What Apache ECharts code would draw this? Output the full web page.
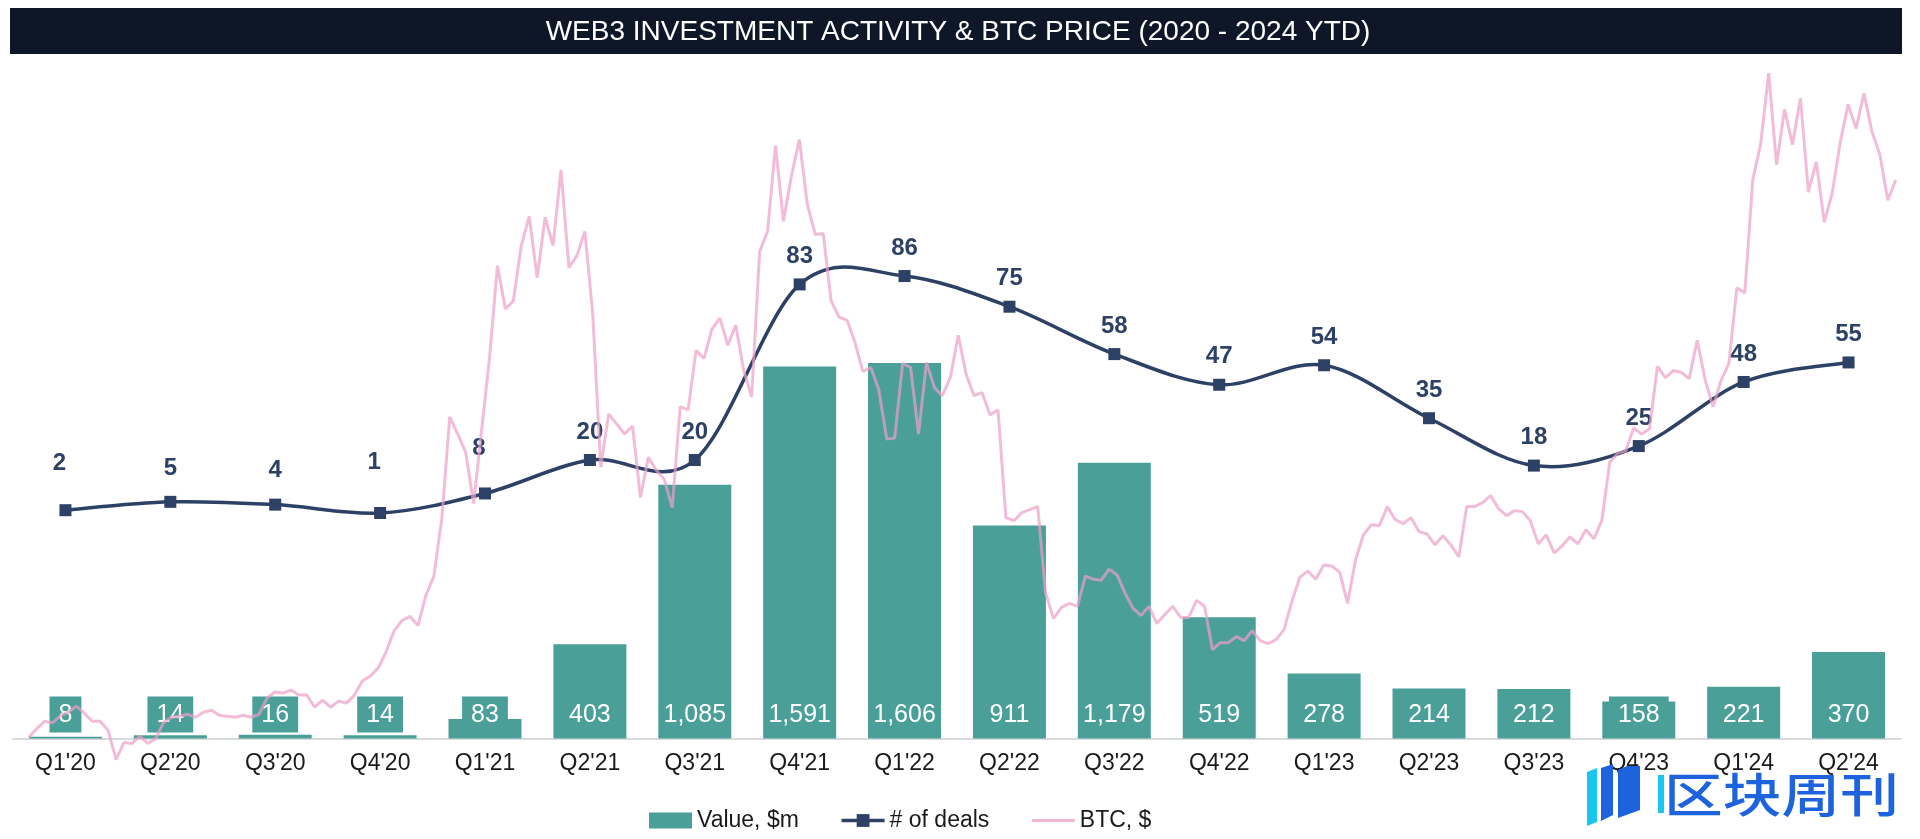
<!DOCTYPE html>
<html><head><meta charset="utf-8">
<script src="https://cdn.jsdelivr.net/npm/echarts@6/dist/echarts.min.js"></script>
<style>html,body{margin:0;padding:0;background:#fff}#c{width:1920px;height:839px}</style>
</head><body><div id="c"></div>
<script>
// ---------------- data ----------------
const quarters = ["Q1'20","Q2'20","Q3'20","Q4'20","Q1'21","Q2'21","Q3'21","Q4'21","Q1'22","Q2'22","Q3'22","Q4'22","Q1'23","Q2'23","Q3'23","Q4'23","Q1'24","Q2'24"];
const valueM = [8,14,16,14,83,403,1085,1591,1606,911,1179,519,278,214,212,158,221,370];
const deals = [2,5,4,1,8,20,20,83,86,75,58,47,54,35,18,25,48,55];
// BTC price, $, one reading per week starting 1 Jan 2020
const btcFirstDay = [2020, 0, 1];
const btcStepDays = 7;
const btcUSD = [
  7200,8050,8800,8650,9350,9700,10300,9600,8800,8800,7900,5000,6700,6600,7300,6600,7100,8700,9200,9300,9500,9200,9700,9900,9400,9300,9200,9400,9200,9500,11100,11700,11600,11900,11400,11400,10200,10900,10200,10800,10600,11400,12800,13300,14100,15700,17800,18800,19200,18300,21300,23200,28900,
  39000,37300,35500,30400,37600,44800,54000,49700,50500,56000,58900,52800,58800,56000,63500,53800,55000,57400,49200,34000,39300,38300,37300,38100,31000,35000,33700,32800,30000,40000,39700,45600,44800,47700,48800,46100,48100,43600,41000,55400,57400,65900,58400,62900,66500,60100,57100,57200,50500,48900,48600,46400,
  43500,43900,41700,36800,36900,44300,43900,37300,44400,41900,41100,42900,47100,43200,41100,41400,39200,39700,29000,28700,29500,29800,30100,21500,19000,20100,20500,20200,23200,22900,22800,23900,23300,21500,20000,19300,20200,18500,19400,20200,19100,19100,20800,20200,15900,16600,16600,17200,16800,17800,16800,16500,
  16900,17900,20700,23100,23700,22900,24300,24200,23600,20500,24800,27300,28300,28200,30100,28800,28400,29000,27600,27400,26300,27200,26300,25100,30100,30100,30500,31200,29900,29200,29700,29600,28700,26400,27300,25500,26200,27100,26400,27800,26900,28700,34500,35400,35600,37900,37300,37800,44000,42900,43600,43400,
  42800,46600,42700,40000,42600,44300,51800,51300,62500,66100,73100,64000,69500,66000,70600,61300,64300,58300,61200,66200,70000,67600,71100,67300,65000,60500,62500
];

// ---------------- styles ----------------
const TEAL = '#4b9f99', NAVY = '#2c4165', PINK = '#ec9fc7';
const FONT = '"Liberation Sans", Arial, sans-serif';
// manual nudges of the first deal labels (px), as in the original
const dealLabelNudge = [[-6,-19],[0,-5],[0,-6],[-6,-23],[-6,-17]];

const DAY = 86400000;
const t0 = new Date(btcFirstDay[0], btcFirstDay[1], btcFirstDay[2]).getTime();
const btcData = btcUSD.map((v, i) => [t0 + i * btcStepDays * DAY, v]);
const dealData = deals.map((v, i) => ({ value: v, label: { offset: dealLabelNudge[i] || [0, 0] } }));
const fmt = v => v.toLocaleString('en-US');
// label box: wide padding for short numbers, tight for long ones so it stays inside the bar
const barData = valueM.map(v => ({ value: v, label: { padding: fmt(v).length > 3 ? [6, 2, 5, 2] : [6, 9, 5, 9] } }));

// Catmull-Rom style smoothing (like the spreadsheet's smoothed line), drawn through the axis scales
function dealsCurve(params, api) {
  if (params.dataIndex !== 0) return null;
  const pts = deals.map((v, i) => api.coord([i, v]));
  const n = pts.length, kids = [];
  for (let i = 0; i < n - 1; i++) {
    const p0 = pts[Math.max(i - 1, 0)], p1 = pts[i], p2 = pts[i + 1], p3 = pts[Math.min(i + 2, n - 1)];
    kids.push({
      type: 'bezierCurve',
      shape: {
        x1: p1[0], y1: p1[1], x2: p2[0], y2: p2[1],
        cpx1: p1[0] + (p2[0] - p0[0]) / 6, cpy1: p1[1] + (p2[1] - p0[1]) / 6,
        cpx2: p2[0] - (p3[0] - p1[0]) / 6, cpy2: p2[1] - (p3[1] - p1[1]) / 6
      },
      style: { stroke: NAVY, lineWidth: 3.5, fill: null }
    });
  }
  return { type: 'group', children: kids };
}

const chart = echarts.init(document.getElementById('c'), null, { renderer: 'canvas' });
chart.setOption({
  animation: false,
  backgroundColor: '#fff',
  grid: { left: 13, right: 19, top: 60, bottom: 100.5, containLabel: false },
  legend: {
    left: 644, top: 804,
    itemWidth: 43, itemHeight: 16, itemGap: 41,
    textStyle: { fontFamily: FONT, fontSize: 23, color: '#1a1a1a' },
    data: [
      { name: 'Value, $m', icon: 'rect' },
      { name: '# of deals', lineStyle: { color: NAVY, width: 3.5, opacity: 1 } },
      { name: 'BTC, $', itemStyle: { opacity: 0 }, lineStyle: { color: '#f2b6d4', width: 3, opacity: 1 } }
    ]
  },
  xAxis: [
    {
      type: 'category', data: quarters,
      axisLine: { lineStyle: { color: '#d8dbde', width: 2 } },
      axisTick: { show: false },
      axisLabel: { fontFamily: FONT, fontSize: 23, color: '#1a1a1a', margin: 14 }
    },
    { type: 'time', show: false, min: t0 - 13.8 * DAY, max: t0 + 1649.6 * DAY }
  ],
  yAxis: [
    { type: 'value', show: false, min: 0, max: 2902 },
    { type: 'value', show: false, min: -79.9, max: 163.5 },
    { type: 'value', show: false, min: 7093, max: 74405 }
  ],
  graphic: [
    { type: 'rect', shape: { x: 10, y: 8, width: 1892, height: 46 }, style: { fill: '#0d1727' }, z: 10 },
    { type: 'text', x: 958, y: 32, z: 11, style: { text: 'WEB3 INVESTMENT ACTIVITY & BTC PRICE (2020 - 2024 YTD)', fill: '#ffffff', font: '28px ' + FONT, textAlign: 'center', textVerticalAlign: 'middle' } },
    // watermark logo
    { type: 'polygon', z: 20, shape: { points: [[1587,772],[1597,768],[1597,822],[1587,826]] }, style: { fill: '#19c6ef' } },
    { type: 'polygon', z: 20, shape: { points: [[1601,768],[1613,764],[1613,815],[1601,821]] }, style: { fill: '#1e63de' } },
    { type: 'polygon', z: 20, shape: { points: [[1618,770],[1627,766],[1640,766],[1640,810],[1618,818]] }, style: { fill: '#1e63de' } },
    { type: 'rect', z: 20, shape: { x: 1658, y: 775, width: 6, height: 38 }, style: { fill: '#19c6ef' } },
    { type: 'text', z: 20, x: 1664, y: 794, scaleX: 1.25, style: { text: '区块周刊', fill: '#1e63de', font: '500 47px "Noto Sans CJK SC"', textAlign: 'left', textVerticalAlign: 'middle' } }
  ],
  series: [
    {
      name: 'Value, $m', type: 'bar', data: barData, barWidth: 73, z: 2,
      itemStyle: { color: TEAL },
      label: {
        show: true, position: 'insideBottom', distance: 6,
        color: '#fff', fontFamily: FONT, fontSize: 25, lineHeight: 25,
        backgroundColor: TEAL, borderRadius: 0, textBorderWidth: 0,
        formatter: p => fmt(p.value)
      }
    },
    {
      name: '# of deals curve', type: 'custom', yAxisIndex: 1, data: deals, z: 3,
      renderItem: dealsCurve, silent: true
    },
    {
      name: '# of deals', type: 'line', yAxisIndex: 1, data: dealData, z: 3,
      symbol: 'rect', symbolSize: 12,
      lineStyle: { color: NAVY, width: 3.5, opacity: 0 }, itemStyle: { color: NAVY },
      label: { show: true, position: 'top', distance: 11, color: NAVY, fontFamily: FONT, fontSize: 24, fontWeight: 'bold', lineHeight: 22 }
    },
    {
      name: 'BTC, $', type: 'line', xAxisIndex: 1, yAxisIndex: 2, data: btcData, z: 4,
      symbol: 'none', showSymbol: false, clip: false,
      lineStyle: { color: PINK, width: 3, opacity: 0.7 }, itemStyle: { color: '#f2b9d6' }
    }
  ]
});
</script></body></html>
